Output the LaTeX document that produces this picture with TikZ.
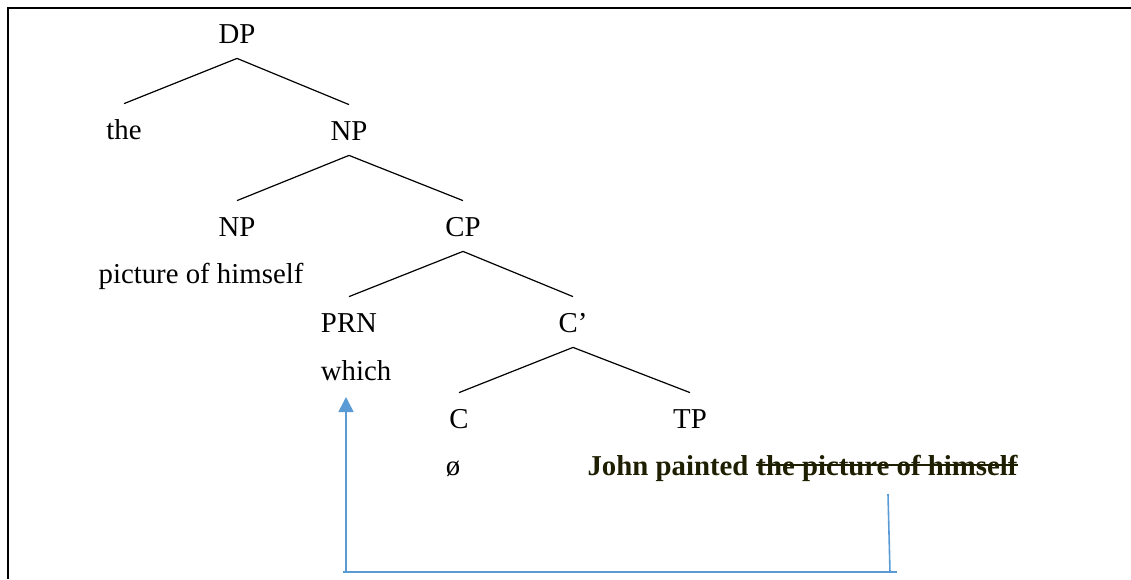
\documentclass[tikz,border=0pt]{standalone}
\usepackage{fontspec}
\setmainfont{Liberation Serif}
\usetikzlibrary{positioning,arrows.meta}

\definecolor{painted}{RGB}{30,30,0}
\definecolor{traceblue}{RGB}{91,155,213}

\begin{document}
\begin{tikzpicture}[x=0.5pt,y=-0.5pt]

      \useasboundingbox (0,0) rectangle (1131,579);
      \draw[line width=1.1pt] (8,579) -- (8,8) -- (1131,8);

      \begin{scope}[every node/.style={font=\fontsize{14.4}{17}\selectfont,
          text height=11.5pt, text depth=1.5pt, inner xsep=2pt, inner ysep=6pt}]
        \node (1)  at (237,33)  {DP};
        \node (2)  at (124,129) {the};
        \node (3)  at (349,130) {NP};
        \node (4)  at (237,226) {NP};
        \node (5)  at (463,226) {CP};
        \node (6)  at (349,322) {PRN};
        \node (7)  at (573,322) {C’};
        \node (8)  at (459,418) {C};
        \node (9)  at (690,418) {TP};
        \node (10) at (201,273) {picture of himself};
        \node (11) at (356,370) {which};
        \node (12) at (453,465) {ø};
      \end{scope}

      \begin{scope}[every node/.style={font=\fontsize{14.4}{17}\selectfont\bfseries,
          text=painted, text height=11.5pt, text depth=1.5pt, inner xsep=0pt, inner ysep=6pt}]
        \node (13) at (668,465) {John painted};
        \node[right=3.6pt of 13] (14) {the picture of himself};
      \end{scope}
      \draw[painted, line width=0.7pt] (14.west) -- (14.east);

      \begin{scope}[every edge/.style={draw, line width=0.6pt}]
        \path (1.south) edge (2.north);
        \path (1.south) edge (3.north);
        \path (3.south) edge (4.north);
        \path (3.south) edge (5.north);
        \path (5.south) edge (6.north);
        \path (5.south) edge (7.north);
        \path (7.south) edge (8.north);
        \path (7.south) edge (9.north);
      \end{scope}

      % movement line back up to the relative pronoun
      \coordinate (s) at (888,494);
      \coordinate (r) at (890,572);
      \coordinate (l) at (346,572);
      \coordinate (t) at (346,397);
      \begin{scope}[traceblue, line width=0.8pt]
        \draw (s) -- (r);
        \draw ([xshift=-1.5pt]l) -- ([xshift=3.5pt]r);
        \draw[-{Triangle[width=7.5pt,length=7.5pt]}] (l) -- (t);
      \end{scope}

    \end{tikzpicture}
\end{document}
